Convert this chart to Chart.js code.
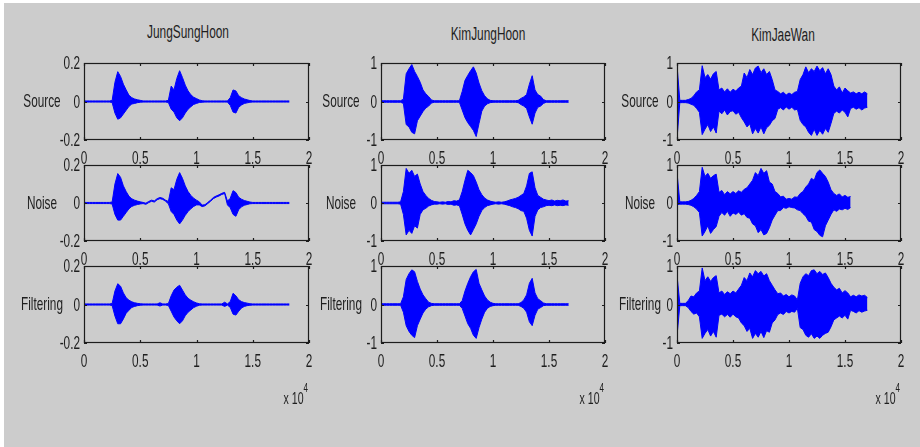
<!DOCTYPE html>
<html lang="en">
<head>
<meta charset="UTF-8">
<title>Source / Noise / Filtering waveforms</title>
<script src="https://cdn.jsdelivr.net/npm/chart.js@4.4.0/dist/chart.umd.min.js"></script>
<style>
  body { margin: 0; background: #fff; width: 920px; height: 447px; overflow: hidden; }
  #fig { position: absolute; left: 4px; top: 3px; width: 916px; height: 444px; background: #cccccc; }
  canvas { position: absolute; }
  .txt { position: absolute; font-family: "Liberation Sans", Arial, sans-serif; color: #1e1e1e;
         white-space: nowrap; line-height: 1; transform: translateX(-50%) scaleX(0.62); }
  .title { font-size: 18px; transform: translateX(-50%) scaleX(0.66); }
  .ylab { font-size: 19px; }
  .xexp { font-size: 17px; transform-origin: right center; transform: translateX(-100%) scaleX(0.62); }
  .xexp sup { font-size: 13px; position: relative; top: -5px; }
</style>
</head>
<body>
<div id="fig"></div>

<script>
// tick values / labels
const xTickValues = [0, 0.5, 1, 1.5, 2];
const xTickLabels = ['0', '0.5', '1', '1.5', '2'];
const yTickValuesSmall = [-0.2, 0, 0.2];
const yTickLabelsSmall = ['-0.2', '0', '0.2'];
const yTickValuesUnit = [-1, 0, 1];
const yTickLabelsUnit = ['-1', '0', '1'];

const speakers = ['JungSungHoon', 'KimJungHoon', 'KimJaeWan'];
const rowLabels = ['Source', 'Noise', 'Filtering'];

// envelope readings (upper / lower), one every 0.025 x10^4 samples
const sampleStep = 0.025;

// JungSungHoon
const jungSourceHi = [
  .003,.003,.003,.003,.003,.003,.003,.003,.003,.003,
  .005,.10,.155,.13,.09,.06,.032,.02,.013,.009,.006,
  .003,.003,.003,.003,.003,.003,.003,.003,.003,
  .006,.08,.06,.12,.16,.125,.085,.055,.035,.022,.015,.008,.004,
  .003,.003,.003,.003,.003,.003,.003,.003,.003,
  .02,.06,.055,.03,.02,.013,.009,.005,
  .003,.003,.003,.003,.003,.003,.003,.003,.003,.003,.003,.003,.003,.003];
const jungSourceLo = [
  -.003,-.003,-.003,-.003,-.003,-.003,-.003,-.003,-.003,-.003,
  -.005,-.06,-.092,-.085,-.065,-.045,-.025,-.013,-.01,-.006,-.004,
  -.003,-.003,-.003,-.003,-.003,-.003,-.003,-.003,-.003,
  -.005,-.04,-.055,-.085,-.1,-.085,-.06,-.04,-.027,-.015,-.01,-.005,-.004,
  -.003,-.003,-.003,-.003,-.003,-.003,-.003,-.003,-.003,
  -.02,-.055,-.06,-.03,-.018,-.01,-.007,-.004,
  -.003,-.003,-.003,-.003,-.003,-.003,-.003,-.003,-.003,-.003,-.003,-.003,-.003,-.003];

const jungNoiseHi = [
  .003,.003,.003,.003,.003,.003,.003,.003,.003,.003,
  .005,.10,.155,.135,.09,.06,.035,.022,.015,.01,.006,
  .003,-.001,.008,.015,.011,.023,.029,.025,.015,
  .008,.08,.07,.125,.16,.13,.09,.06,.04,.025,.015,.006,
  -.011,-.009,.003,.015,.029,.037,.043,.051,.056,
  .01,.025,.065,.055,.03,.02,.013,.009,.005,
  .003,.003,.003,.003,.003,.003,.003,.003,.003,.003,.003,.003,.003,.003];
const jungNoiseLo = [
  -.003,-.003,-.003,-.003,-.003,-.003,-.003,-.003,-.003,-.003,
  -.005,-.06,-.09,-.09,-.07,-.05,-.03,-.018,-.012,-.008,-.005,
  -.003,-.007,.002,.009,.005,.017,.023,.019,.009,
  -.004,-.045,-.06,-.09,-.11,-.09,-.065,-.045,-.03,-.018,-.01,-.01,
  -.019,-.015,-.003,.009,.023,.031,.037,.045,.05,
  -.01,-.025,-.06,-.07,-.035,-.02,-.012,-.008,-.004,
  -.003,-.003,-.003,-.003,-.003,-.003,-.003,-.003,-.003,-.003,-.003,-.003,-.003,-.003];

const jungFilterHi = [
  .003,.003,.003,.003,.003,.003,.003,.003,.003,.003,
  .005,.07,.108,.095,.06,.035,.022,.014,.009,.006,.004,
  .003,.003,.003,.003,.003,.003,.009,.003,.003,
  .005,.045,.075,.09,.1,.075,.05,.032,.022,.014,.008,.004,
  .003,.003,.003,.003,.003,.003,.003,.003,.012,
  .003,.015,.058,.045,.025,.015,.01,.007,.004,
  .003,.003,.003,.003,.003,.003,.003,.003,.003,.003,.003,.003,.003,.003];
const jungFilterLo = [
  -.003,-.003,-.003,-.003,-.003,-.003,-.003,-.003,-.003,-.003,
  -.005,-.06,-.1,-.1,-.075,-.045,-.03,-.015,-.01,-.006,-.004,
  -.003,-.003,-.003,-.003,-.003,-.003,-.008,-.003,-.003,
  -.005,-.035,-.065,-.085,-.1,-.085,-.058,-.04,-.028,-.016,-.009,-.004,
  -.003,-.003,-.003,-.003,-.003,-.003,-.003,-.003,-.01,
  -.003,-.015,-.05,-.055,-.035,-.018,-.01,-.006,-.004,
  -.003,-.003,-.003,-.003,-.003,-.003,-.003,-.003,-.003,-.003,-.003,-.003,-.003,-.003];

// KimJungHoon
const kjhSourceHi = [
  .02,.02,.02,.02,.02,.02,.02,.02,
  .06,.72,.85,.96,.78,.65,.5,.3,.2,.13,.04,.02,
  .02,.02,.02,.02,.02,.02,.02,.02,.02,
  .26,.55,.68,.8,.9,.74,.48,.28,.15,.07,.03,
  .02,.02,.02,.02,.02,.02,.02,.02,.02,
  .03,.08,.12,.18,.45,.67,.3,.18,.14,.05,.02,
  .02,.02,.02,.02,.02,.02,.02,.02];
const kjhSourceLo = [
  -.02,-.02,-.02,-.02,-.02,-.02,-.02,-.02,
  -.05,-.6,-.66,-.8,-.84,-.5,-.38,-.26,-.17,-.12,-.04,-.02,
  -.02,-.02,-.02,-.02,-.02,-.02,-.02,-.02,-.02,
  -.22,-.42,-.55,-.65,-.75,-.91,-.57,-.25,-.12,-.06,-.03,
  -.02,-.02,-.02,-.02,-.02,-.02,-.02,-.02,-.02,
  -.03,-.08,-.12,-.18,-.4,-.59,-.3,-.15,-.12,-.05,-.02,
  -.02,-.02,-.02,-.02,-.02,-.02,-.02,-.02];

const kjhNoiseHi = [
  .02,.02,.02,.02,.02,.02,.02,.03,
  .3,.91,.78,.86,.7,.76,.5,.3,.2,.12,.07,.04,
  .03,.02,.03,.02,.04,.03,.06,.05,.08,
  .3,.6,.86,.8,.72,.55,.35,.22,.13,.08,.05,
  .03,.02,.03,.02,.03,.05,.08,.1,.12,.15,.2,.25,
  .45,.78,.82,.4,.2,.15,.1,.08,
  .06,.08,.05,.07,.06,.08,.05,.06];
const kjhNoiseLo = [
  -.02,-.02,-.02,-.02,-.02,-.02,-.02,-.03,
  -.3,-.84,-.72,-.8,-.6,-.66,-.3,-.18,-.14,-.08,-.05,-.03,
  -.03,-.02,-.03,-.02,-.04,-.03,-.06,-.05,-.07,
  -.3,-.55,-.72,-.84,-.7,-.55,-.35,-.2,-.12,-.07,-.05,
  -.03,-.02,-.03,-.02,-.03,-.05,-.07,-.1,-.12,-.15,-.2,-.22,
  -.4,-.72,-.87,-.35,-.18,-.12,-.1,-.07,
  -.06,-.07,-.05,-.07,-.06,-.07,-.05,-.06];

const kjhFilterHi = [
  .02,.02,.02,.02,.02,.02,.02,.02,
  .2,.65,.8,.9,.85,.6,.4,.25,.15,.06,.03,
  .02,.02,.02,.02,.02,.02,.02,.02,.02,.02,
  .1,.35,.55,.72,.85,.91,.55,.38,.22,.12,.06,.03,
  .02,.02,.02,.02,.02,.02,.02,.02,.02,
  .05,.12,.25,.55,.68,.3,.15,.1,.04,.02,
  .02,.02,.02,.02,.02,.02,.02,.02];
const kjhFilterLo = [
  -.02,-.02,-.02,-.02,-.02,-.02,-.02,-.02,
  -.2,-.55,-.7,-.8,-.86,-.55,-.38,-.22,-.12,-.06,-.03,
  -.02,-.02,-.02,-.02,-.02,-.02,-.02,-.02,-.02,-.02,
  -.1,-.3,-.5,-.62,-.8,-.88,-.6,-.38,-.2,-.1,-.05,-.03,
  -.02,-.02,-.02,-.02,-.02,-.02,-.02,-.02,-.02,
  -.05,-.1,-.2,-.45,-.55,-.28,-.12,-.08,-.03,-.02,
  -.02,-.02,-.02,-.02,-.02,-.02,-.02,-.02];

// KimJaeWan
const kjwSourceHi = [
  .95,.03,.03,.03,.05,.08,.15,.25,.3,.93,.62,.7,.58,.72,.78,
  .3,.35,.25,.33,.24,.32,.27,.35,.4,
  .74,.62,.83,.7,.87,.92,.75,.85,.7,.78,.57,.3,.26,.2,.24,.17,
  .22,.18,.24,.26,.57,.7,.9,.75,.85,.78,.92,.8,.88,.72,.85,.7,
  .4,.3,.38,.22,.35,.28,.22,.25,.2,.24,.2,.25,.2];
const kjwSourceLo = [
  -.98,-.03,-.03,-.03,-.04,-.07,-.1,-.18,-.28,-.86,-.72,-.6,-.78,-.66,-.82,
  -.25,-.32,-.22,-.35,-.26,-.24,-.33,-.28,-.42,
  -.53,-.66,-.58,-.84,-.7,-.82,-.66,-.84,-.68,-.62,-.5,-.44,-.2,-.16,-.22,-.14,
  -.2,-.15,-.22,-.2,-.49,-.6,-.66,-.8,-.88,-.72,-.88,-.75,-.85,-.7,-.8,-.57,
  -.31,-.25,-.3,-.22,-.28,-.4,-.18,-.15,-.2,-.16,-.22,-.17,-.15];

const kjwNoiseHi = [
  .8,.03,.03,.03,.04,.07,.12,.2,.3,.94,.7,.78,.65,.72,.76,
  .28,.33,.22,.3,.24,.3,.25,.32,.28,.36,.4,.5,
  .6,.8,.72,.91,.78,.85,.55,.5,.3,.25,.16,.18,.1,
  .12,.1,.16,.15,.25,.3,.42,.5,.65,.6,.8,.87,.78,.7,.55,.35,
  .25,.2,.24,.16,.2,.15,.17];
const kjwNoiseLo = [
  -.05,-.03,-.03,-.03,-.04,-.06,-.1,-.16,-.25,-.87,-.75,-.6,-.8,-.7,-.62,
  -.35,-.25,-.32,-.22,-.35,-.26,-.3,-.24,-.32,-.28,-.38,-.4,
  -.55,-.6,-.78,-.7,-.84,-.8,-.65,-.45,-.32,-.2,-.2,-.12,-.14,
  -.1,-.12,-.13,-.18,-.2,-.28,-.35,-.48,-.5,-.7,-.75,-.85,-.89,-.6,-.45,-.3,
  -.18,-.22,-.16,-.18,-.14,-.17,-.12];

const kjwFilterHi = [
  .76,.03,.03,.03,.1,.22,.2,.3,.35,.95,.62,.72,.6,.7,.75,
  .3,.35,.26,.33,.28,.35,.3,.4,.5,
  .7,.62,.82,.72,.88,.8,.86,.74,.8,.62,.5,.38,.28,.3,.22,.26,
  .2,.25,.22,.12,.55,.72,.8,.75,.88,.9,.8,.86,.78,.82,.7,.55,
  .45,.38,.42,.3,.36,.3,.2,.24,.2,.25,.22,.24,.18];
const kjwFilterLo = [
  -.82,-.03,-.03,-.03,-.08,-.18,-.25,-.22,-.32,-.88,-.75,-.65,-.82,-.7,-.85,
  -.28,-.25,-.32,-.26,-.33,-.25,-.32,-.35,-.48,
  -.55,-.7,-.62,-.88,-.75,-.85,-.7,-.86,-.68,-.72,-.48,-.4,-.26,-.22,-.26,-.18,
  -.22,-.18,-.2,-.1,-.6,-.65,-.8,-.85,-.76,-.88,-.82,-.88,-.8,-.75,-.72,-.58,
  -.4,-.35,-.3,-.35,-.28,-.38,-.15,-.18,-.22,-.16,-.2,-.17,-.15];

// ---- layout (pixels) ----
const colLeft = [84, 381, 677];
const colWidth = [225, 224, 224];
const rowTop = [63, 165, 266];
const rowHeight = [77, 76, 77];
const titleX = [188, 488, 783];
const titleTop = [23, 25, 26];
const ylabX = [42, 341, 640];

const BLUE = '#0000ff';
const AXIS = '#1c1c1c';
const SQUEEZE = 0.62;
const TICK = 3;

function squeezedText(ctx, text, x, y, align) {
  ctx.save();
  ctx.translate(x, y);
  ctx.scale(SQUEEZE, 1);
  ctx.textAlign = align;
  ctx.fillText(text, 0, 0);
  ctx.restore();
}

// matlab style box: inward ticks on all four sides, squeezed tick labels
const matlabAxes = {
  id: 'matlabAxes',
  afterDraw(chart) {
    const { ctx, chartArea: a } = chart;
    const x = chart.scales.x, y = chart.scales.y;
    ctx.save();
    ctx.strokeStyle = AXIS;
    ctx.lineWidth = 1.2;
    ctx.strokeRect(a.left + 0.5, a.top + 0.5, a.right - a.left - 1, a.bottom - a.top - 1);
    ctx.beginPath();
    x.ticks.forEach(t => {
      const px = Math.round(x.getPixelForValue(t.value)) + 0.5;
      ctx.moveTo(px, a.bottom); ctx.lineTo(px, a.bottom - TICK);
      ctx.moveTo(px, a.top); ctx.lineTo(px, a.top + TICK);
    });
    y.ticks.forEach(t => {
      const py = Math.round(y.getPixelForValue(t.value)) + 0.5;
      ctx.moveTo(a.left, py); ctx.lineTo(a.left + TICK, py);
      ctx.moveTo(a.right, py); ctx.lineTo(a.right - TICK, py);
    });
    ctx.stroke();

    ctx.fillStyle = '#1e1e1e';
    ctx.font = '19px "Liberation Sans", Arial, sans-serif';
    ctx.textBaseline = 'alphabetic';
    x.ticks.forEach(t => {
      squeezedText(ctx, t.label, x.getPixelForValue(t.value), a.bottom + 24, 'center');
    });
    y.ticks.forEach(t => {
      squeezedText(ctx, t.label, a.left - 4, y.getPixelForValue(t.value) + 6, 'right');
    });
    ctx.restore();
  }
};

function toPoints(arr) {
  return arr.map((v, i) => ({ x: i * sampleStep, y: v }));
}

function makePanel(col, row, hi, lo, yValues, yLabels) {
  const padL = 40, padT = 10, padR = 12, padB = 30;
  const cv = document.createElement('canvas');
  cv.width = colWidth[col] + padL + padR;
  cv.height = rowHeight[row] + padT + padB;
  cv.style.left = (colLeft[col] - padL) + 'px';
  cv.style.top = (rowTop[row] - padT) + 'px';
  document.body.appendChild(cv);

  new Chart(cv, {
    type: 'line',
    data: {
      datasets: [
        { data: toPoints(hi), borderColor: BLUE, borderWidth: 1, pointRadius: 0, tension: 0, fill: false },
        { data: toPoints(lo), borderColor: BLUE, borderWidth: 1, pointRadius: 0, tension: 0,
          backgroundColor: BLUE, fill: '-1' }
      ]
    },
    options: {
      responsive: false,
      animation: false,
      events: [],
      layout: { padding: { left: padL, top: padT, right: padR, bottom: padB } },
      plugins: { legend: { display: false }, tooltip: { enabled: false } },
      scales: {
        x: {
          type: 'linear', min: 0, max: 2,
          afterBuildTicks: s => { s.ticks = xTickValues.map(v => ({ value: v })); },
          ticks: { display: false, callback: (v, i) => xTickLabels[i] },
          grid: { display: false, drawTicks: false },
          border: { display: false },
          afterFit: s => { s.height = 0; }
        },
        y: {
          type: 'linear', min: yValues[0], max: yValues[yValues.length - 1],
          afterBuildTicks: s => { s.ticks = yValues.map(v => ({ value: v })); },
          ticks: { display: false, callback: (v, i) => yLabels[i] },
          grid: { display: false, drawTicks: false },
          border: { display: false },
          afterFit: s => { s.width = 0; }
        }
      }
    },
    plugins: [matlabAxes]
  });
}

const panels = [
  [0, 0, jungSourceHi, jungSourceLo], [0, 1, jungNoiseHi, jungNoiseLo], [0, 2, jungFilterHi, jungFilterLo],
  [1, 0, kjhSourceHi, kjhSourceLo], [1, 1, kjhNoiseHi, kjhNoiseLo], [1, 2, kjhFilterHi, kjhFilterLo],
  [2, 0, kjwSourceHi, kjwSourceLo], [2, 1, kjwNoiseHi, kjwNoiseLo], [2, 2, kjwFilterHi, kjwFilterLo]
];
panels.forEach(([c, r, hi, lo]) => {
  if (c === 0) makePanel(c, r, hi, lo, yTickValuesSmall, yTickLabelsSmall);
  else makePanel(c, r, hi, lo, yTickValuesUnit, yTickLabelsUnit);
});

// text: titles, row labels, exponent labels
function addText(cls, html, left, top) {
  const d = document.createElement('div');
  d.className = 'txt ' + cls;
  d.innerHTML = html;
  d.style.left = left + 'px';
  d.style.top = top + 'px';
  document.body.appendChild(d);
}
speakers.forEach((name, c) => {
  addText('title', name, titleX[c], titleTop[c]);
  rowLabels.forEach((lab, r) => {
    const mid = rowTop[r] + rowHeight[r] / 2 - 1.5;
    addText('ylab', lab, ylabX[c], mid - 9);
  });
  addText('xexp', 'x 10<sup>4</sup>', colLeft[c] + colWidth[c] - 1, 386);
});
</script>
</body>
</html>
